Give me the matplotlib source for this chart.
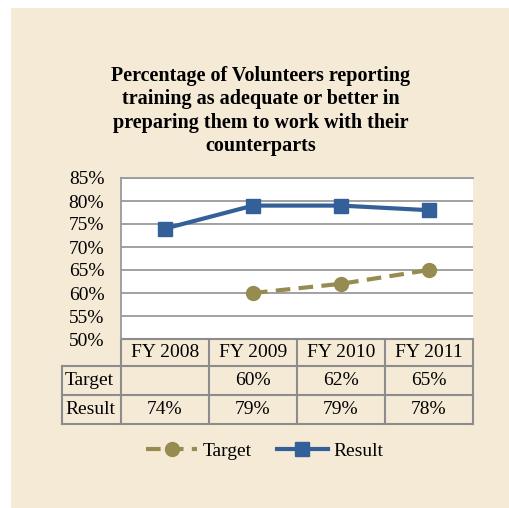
import numpy as np
import matplotlib.pyplot as plt
from matplotlib.patches import Rectangle
from matplotlib.ticker import FuncFormatter

years = ['FY 2008', 'FY 2009', 'FY 2010', 'FY 2011']
target = [np.nan, 60, 62, 65]
result = [74, 79, 79, 78]
yticks = [50, 55, 60, 65, 70, 75, 80, 85]
title = ('Percentage of Volunteers reporting\ntraining as adequate or better in\n'
         'preparing them to work with their\ncounterparts')

BG = '#f5ead6'
BLUE = '#34609a'
OLIVE = '#968b50'
GRID = '#9a9a9a'
W, H = 509, 508
FS = 14


def main():
    plt.rcParams['font.family'] = ['Liberation Serif', 'DejaVu Serif']
    fig = plt.figure(figsize=(W / 100, H / 100), dpi=100, facecolor='white')
    fig.patches.append(Rectangle((11 / W, 0), 1, 1 - 8 / H, transform=fig.transFigure,
                                 facecolor=BG, edgecolor='none', zorder=-10))

    fig.text(261 / W, 1 - 111 / H, title, ha='center', va='center',
             fontsize=14.5, fontweight='bold', linespacing=1.22)

    left, right, top, bottom = 121, 473, 178, 339
    ax = fig.add_axes([left / W, 1 - bottom / H, (right - left) / W, (bottom - top) / H])
    ax.set_facecolor('white')
    x = np.arange(len(years))
    ax.plot(x, target, color=OLIVE, lw=3, ls=(0, (3.5, 2)), marker='o', ms=10,
            label='Target', zorder=3)
    ax.plot(x, result, color=BLUE, lw=3, marker='s', ms=10.5, label='Result', zorder=4)
    ax.set_xlim(-0.5, len(years) - 0.5)
    ax.set_ylim(yticks[0], yticks[-1])
    ax.set_yticks(yticks)
    ax.yaxis.set_major_formatter(FuncFormatter(lambda v, p: '{:.0f}%'.format(v)))
    ax.set_xticks([])
    ax.tick_params(axis='y', length=0, pad=12, labelsize=FS)
    ax.grid(axis='y', color=GRID, lw=1.3)
    for s in ['right', 'bottom']:
        ax.spines[s].set_visible(False)
    for s in ['left', 'top']:
        ax.spines[s].set_color(GRID)
        ax.spines[s].set_linewidth(1.3)

    # data table under the plot, in axes coordinates
    ph = bottom - top
    pw = right - left
    rows = [('Target', target), ('Result', result)]
    row_h = [27 / ph, 29 / ph, 29 / ph]
    lab_x0 = (62 - left) / pw
    y_edges = [0, -row_h[0], -row_h[0] - row_h[1], -sum(row_h)]
    kw = dict(transform=ax.transAxes, clip_on=False, color='#8c8c8c', lw=1.5)
    # horizontal lines
    ax.plot([0, 1], [y_edges[0]] * 2, **kw)
    for yy in y_edges[1:]:
        ax.plot([lab_x0, 1], [yy, yy], **kw)
    # vertical lines
    ax.plot([lab_x0, lab_x0], [y_edges[1], y_edges[3]], **kw)
    for i in range(len(years) + 1):
        ax.plot([i / len(years)] * 2, [y_edges[0], y_edges[3]], **kw)
    for i, yr in enumerate(years):
        xc = (i + 0.5) / len(years)
        ax.text(xc, (y_edges[0] + y_edges[1]) / 2, yr, transform=ax.transAxes,
                ha='center', va='center', fontsize=FS)
        for r, (name, vals) in enumerate(rows):
            yc = (y_edges[r + 1] + y_edges[r + 2]) / 2
            if i == 0:
                ax.text(lab_x0 + 3 / pw, yc, name, transform=ax.transAxes,
                        ha='left', va='center', fontsize=FS)
            if not np.isnan(vals[i]):
                ax.text(xc, yc, '{:.0f}%'.format(vals[i]), transform=ax.transAxes,
                        ha='center', va='center', fontsize=FS)

    fig.legend(loc='center', bbox_to_anchor=(265 / W, 1 - 451 / H), ncol=2,
               frameon=False, fontsize=FS, handlelength=2.6, columnspacing=1.3,
               handletextpad=0.3)

    fig.savefig('out.png', dpi=100, facecolor=fig.get_facecolor())
    return 0


if __name__ == '__main__':
    main()
